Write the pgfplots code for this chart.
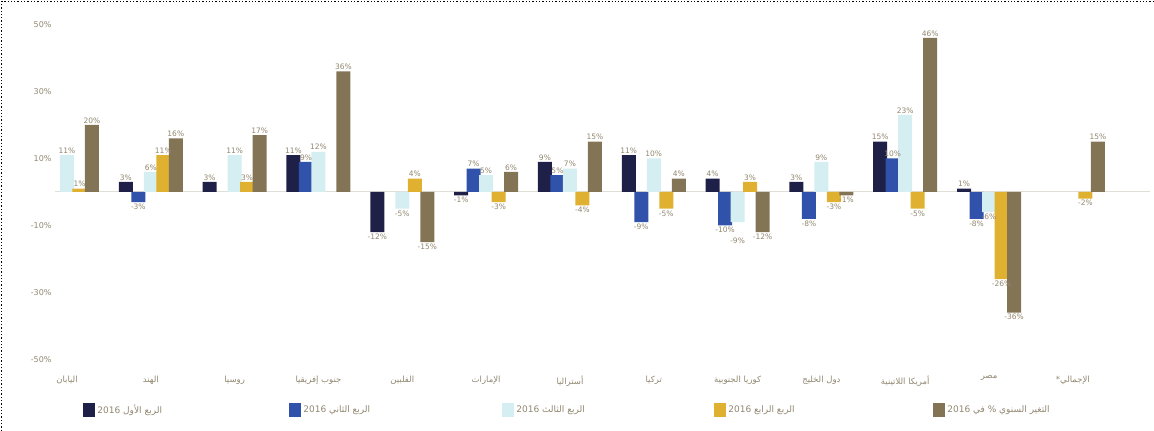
\documentclass[border=0pt]{standalone}
\usepackage{pgfplots}
\pgfplotsset{compat=1.18}
\usepackage{fontspec}
\setmainfont{DejaVu Sans}
\newfontfamily\arabicfont[Script=Arabic]{DejaVu Sans}
\TeXXeTstate=1
\definecolor{cnavy}{RGB}{30,32,72}
\definecolor{cblue}{RGB}{48,82,170}
\definecolor{clight}{RGB}{212,238,242}
\definecolor{cyellow}{RGB}{224,176,48}
\definecolor{cbrown}{RGB}{132,116,86}
\definecolor{clabel}{RGB}{145,135,112}
\definecolor{czero}{RGB}{225,222,214}

% x = category index, y = percent
\pgfplotstableread{
x y
1 3
2 3
3 11
4 -12
5 -1
6 9
7 11
8 4
9 3
10 15
11 1
}\navy
\pgfplotstableread{
x y
1 -3
3 9
5 7
6 5
7 -9
8 -10
9 -8
10 10
11 -8
}\blue
\pgfplotstableread{
x y
0 11
1 6
2 11
3 12
4 -5
5 5
6 7
7 10
8 -9
9 9
10 23
11 -6
}\light
\pgfplotstableread{
x y
0 1
1 11
2 3
4 4
5 -3
6 -4
7 -5
8 3
9 -3
10 -5
11 -26
12 -2
}\yellow
\pgfplotstableread{
x y
0 20
1 16
2 17
3 36
4 -15
5 6
6 15
7 4
8 -12
9 -1
10 46
11 -36
12 15
}\brown

\begin{document}
\begin{tikzpicture}[x=1pt,y=1pt]
\useasboundingbox (0,0) rectangle (1154,431);
\draw[black, line width=1.3pt, dash pattern=on 1.3pt off 2pt] (1.5,0) -- (1.5,429.5) -- (1154,429.5);
\begin{axis}[
  at={(55pt,64.8pt)}, anchor=south west,
  scale only axis, width=1095pt, height=348.4pt,
  xmin=-0.143, xmax=12.92, ymin=-52, ymax=52,
  axis line style={draw=none}, major tick length=0pt,
  ytick={-50,-30,-10,10,30,50},
  yticklabel={\pgfmathprintnumber{\tick}\%},
  /pgf/number format/assume math mode=true,
  yticklabel style={font=\fontsize{8}{9}\selectfont, text=clabel},
  extra y ticks={0}, extra y tick labels={},
  extra y tick style={grid=major, major grid style={color=czero, line width=1pt}},
  xtick={0,...,12},
  xticklabels={
    {\arabicfont\beginR اليابان\endR},
    {\arabicfont\beginR الهند\endR},
    {\arabicfont\beginR روسيا\endR},
    {\arabicfont\beginR جنوب إفريقيا\endR},
    {\arabicfont\beginR الفلبين\endR},
    {\arabicfont\beginR الإمارات\endR},
    {\arabicfont\beginR أستراليا\endR},
    {\arabicfont\beginR تركيا\endR},
    {\arabicfont\beginR كوريا الجنوبية\endR},
    {\arabicfont\beginR دول الخليج\endR},
    {\arabicfont\beginR أمريكا اللاتينية\endR},
    {\arabicfont\beginR مصر\endR},
    {\arabicfont\beginR الإجمالي*\endR}},
  xticklabel style={font=\fontsize{8.5}{10}\selectfont, text=clabel, yshift=-6pt},
  ybar=-1.5pt, bar width=14pt,
  nodes near coords={\pgfmathprintnumber{\pgfplotspointmeta}\%},
  nodes near coords align={vertical},
  every node near coord/.append style={font=\fontsize{7.5}{8}\selectfont, text=clabel, inner sep=1.5pt},
  legend columns=5,
  legend style={at={(0.0230,-0.1257)}, anchor=west, draw=none, fill=none,
    font=\fontsize{9}{10}\selectfont, text=clabel,
    /tikz/every even column/.append style={column sep=2pt}},
  legend cell align=left,
  clip=false,
]
\pgfplotsset{sq/.style={legend image code/.code={\fill[##1,draw=none] (0pt,-7pt) rectangle (12pt,7pt);}}}
\addplot[fill=cnavy, draw=none, sq] table[x=x,y=y] {\navy};
\addlegendentry{\makebox[188pt][l]{\arabicfont\beginR الربع الأول \beginL2016\endL\endR}}
\addplot[fill=cblue, draw=none, sq] table[x=x,y=y] {\blue};
\addlegendentry{\makebox[195pt][l]{\arabicfont\beginR الربع الثاني \beginL2016\endL\endR}}
\addplot[fill=clight, draw=none, sq,
  coordinate style/.condition={\coordindex==8}{yshift=-14pt}] table[x=x,y=y] {\light};
\addlegendentry{\makebox[194pt][l]{\arabicfont\beginR الربع الثالث \beginL2016\endL\endR}}
\addplot[fill=cyellow, draw=none, sq] table[x=x,y=y] {\yellow};
\addlegendentry{\makebox[201pt][l]{\arabicfont\beginR الربع الرابع \beginL2016\endL\endR}}
\addplot[fill=cbrown, draw=none, sq] table[x=x,y=y] {\brown};
\addlegendentry{\arabicfont\beginR التغير السنوي \% في \beginL2016\endL\endR}
\end{axis}
\end{tikzpicture}
\end{document}
